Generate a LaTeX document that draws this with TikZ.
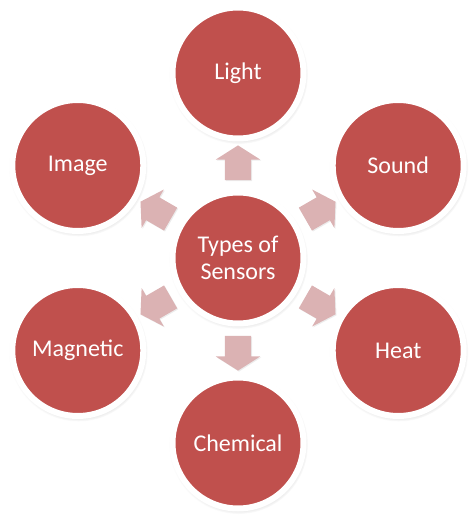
\documentclass[tikz,border=0pt]{standalone}
\usepackage{fontspec}
\setmainfont{Carlito}
\usepackage{xcolor}
\definecolor{sensRed}{HTML}{C0504D}
\definecolor{sensPink}{HTML}{DBB2B3}
\usetikzlibrary{positioning,shapes.arrows,shadows,calc}

\begin{document}
\begin{tikzpicture}[
  x=1pt, y=1pt,
  disc/.style={circle, draw=white, line width=6pt, fill=sensRed,
               minimum size=131pt, inner sep=0pt, text=white, align=center,
               font=\fontsize{24}{27}\selectfont,
               circular drop shadow={shadow xshift=0.5pt, shadow yshift=-1.5pt,
                                     shadow scale=1.06, opacity=.45}},
  pointer/.style={single arrow, fill=sensPink, draw=none, inner sep=13pt,
                  minimum width=44pt, minimum height=29pt,
                  single arrow head extend=9pt, single arrow tip angle=115,
                  drop shadow={shadow xshift=1pt, shadow yshift=-1pt,
                               opacity=.12, fill=black!60}}
]
\useasboundingbox (0,0) rectangle (475,525);
%% -- hub ------------------------------------------------------
\node[disc] (hub) at (238,267) {Types of\\Sensors};

%% -- pointers -------------------------------------------------
\node[pointer, rotate=90]  (pLight) at ($(hub)+(90:91)$)  {};
\node[pointer, rotate=30]  (pSound) at ($(hub)+(30:91)$)  {};
\node[pointer, rotate=-30] (pHeat)  at ($(hub)+(-30:91)$) {};
\node[pointer, rotate=-90] (pChem)  at ($(hub)+(-90:91)$) {};
\node[pointer, rotate=210] (pMagn)  at ($(hub)+(210:91)$) {};
\node[pointer, rotate=150] (pImg)   at ($(hub)+(150:91)$) {};

%% -- sensor types ---------------------------------------------
\node[disc] (light) at ($(hub)+(90:185)$)  {Light};
\node[disc] (sound) at ($(hub)+(30:185)$)  {Sound};
\node[disc] (heat)  at ($(hub)+(-30:185)$) {Heat};
\node[disc] (chem)  at ($(hub)+(-90:185)$) {Chemical};
\node[disc] (magn)  at ($(hub)+(210:185)$) {Magnetic};
\node[disc] (img)   at ($(hub)+(150:185)$) {Image};
\end{tikzpicture}
\end{document}
